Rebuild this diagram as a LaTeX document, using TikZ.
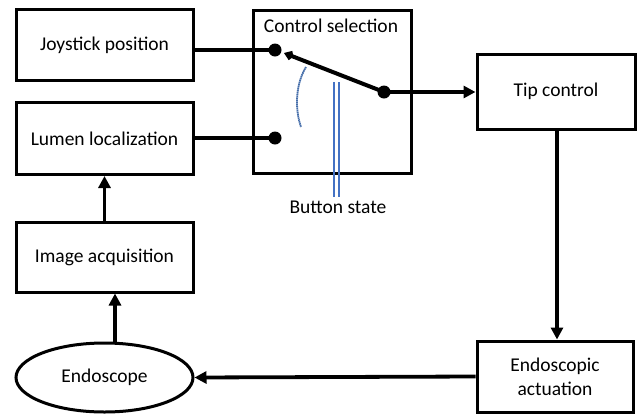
\documentclass[tikz,border=0pt]{standalone}
\usepackage{fontspec}
\setmainfont{Carlito}
\usetikzlibrary{arrows.meta,shapes.geometric}
\definecolor{swblue}{RGB}{68,114,196}
\definecolor{arcblue}{RGB}{70,110,170}
\begin{document}
\begin{tikzpicture}[x=1pt,y=-1pt,
  font=\fontsize{19.5}{24}\selectfont,
  blk/.style={draw,line width=3pt,minimum width=177pt,minimum height=71pt,inner sep=0pt,align=center},
  arr/.style={line width=3.8pt,-{Triangle[length=12pt,width=12pt]}},
  wire/.style={line width=3.8pt},
  dotc/.style={circle,fill,inner sep=0pt,minimum size=13pt}]
\useasboundingbox (0,0) rectangle (637,413);
\node[blk] (joy) at (104.5,45) {Joystick position};
\node[blk,minimum height=72pt] (lumen) at (104.5,138.5) {Lumen localization};
\node[blk,minimum height=70pt] (image) at (104.5,257) {Image acquisition};
\node[draw,ellipse,line width=3pt,minimum width=177pt,minimum height=69pt,inner sep=0pt] (endo) at (104.5,377.5) {Endoscope};
\node[blk,minimum width=158pt,minimum height=163pt] (ctrl) at (332,91.5) {};
\node[blk,minimum width=158pt,minimum height=75pt] (tip) at (556,91.5) {Tip control};
\node[blk,minimum width=156pt,minimum height=71pt] (act) at (555,376.5) {Endoscopic\\actuation};
\node[anchor=base,inner sep=0pt] (ctitle) at (331,32) {Control selection};
% button state lines
\coordinate (b1t) at (334,82); \coordinate (b1b) at (334,197);
\coordinate (b2t) at (339,82); \coordinate (b2b) at (339,197);
\draw[swblue,line width=1.5pt] (b1t) -- (b1b);
\draw[swblue,line width=1.5pt] (b2t) -- (b2b);
\node[anchor=base,inner sep=0pt] (bstate) at (338,213) {Button state};
% contacts
\node[dotc] (c1) at (275,50) {};
\node[dotc] (c2) at (275,138) {};
\node[dotc] (piv) at (384,92) {};
\coordinate (lev) at (284,53);
\draw[line width=4pt,-{Kite[length=10pt,width=10pt,inset=3pt]}] (piv.center) -- (lev);
% blue arc
\coordinate (a1) at (306,67); \coordinate (a2) at (301,127);
\draw[arcblue,line width=1.8pt,dash pattern=on 1.5pt off 0.5pt] (a1) .. controls (295,85) and (295,110) .. (a2);
% connectors
\draw[wire] (joy.east |- c1) -- (c1.center);
\draw[wire] (lumen.east |- c2) -- (c2.center);
\draw[arr] (piv.center) -- (tip.west |- piv);
\draw[arr] ([xshift=1pt]tip.south) -- ([xshift=2pt]act.north);
\draw[arr] (act.west) -- (endo.east);
\draw[arr] ([xshift=10.5pt]endo.north) -- ([xshift=10.5pt]image.south);
\draw[arr] (image.north) -- (lumen.south);
\end{tikzpicture}
\end{document}
